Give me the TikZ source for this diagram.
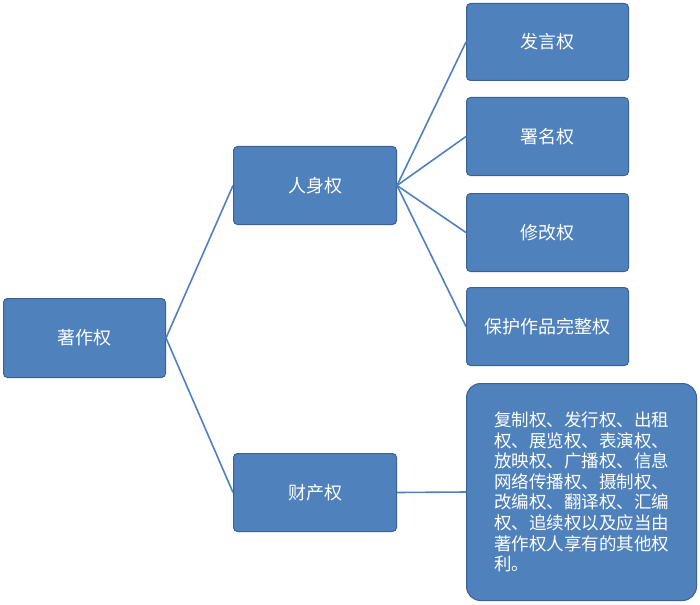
\documentclass[tikz,border=0pt]{standalone}
\usepackage{fontspec}
\newfontfamily\cjk{Noto Sans CJK SC}
\begin{document}
\begin{tikzpicture}[x=1pt,y=-1pt,
  box/.style={draw=blue!40!black!80!cyan, line width=1pt, fill=boxblue, rounded corners=4pt, text=white, font=\cjk\fontsize{18}{22}\selectfont, anchor=north west, inner sep=0pt},
  link/.style={draw=boxblue, line width=1.6pt}]
\definecolor{boxblue}{HTML}{4F81BD}
\definecolor{boxedge}{HTML}{3A6294}
\tikzset{box/.append style={draw=boxedge}}
\useasboundingbox (0,0) rectangle (700,604);
\node[box, minimum width=162, minimum height=79] (a) at (3,298) {著作权};
\node[box, minimum width=163, minimum height=78] (b) at (233,146) {人身权};
\node[box, minimum width=163, minimum height=78] (c) at (233,453) {财产权};
\node[box, minimum width=162, minimum height=77] (d1) at (466,3) {发言权};
\node[box, minimum width=162, minimum height=78] (d2) at (466,97) {署名权};
\node[box, minimum width=162, minimum height=78] (d3) at (466,193) {修改权};
\node[box, minimum width=162, minimum height=78] (d4) at (466,287) {保护作品完整权};
\node[box, rounded corners=14pt, minimum width=230, minimum height=217, font=\cjk\fontsize{17.5}{20.6}\selectfont, align=left] (e) at (466,383) {复制权、发行权、出租\\权、展览权、表演权、\\放映权、广播权、信息\\网络传播权、摄制权、\\改编权、翻译权、汇编\\权、追续权以及应当由\\著作权人享有的其他权\\利。};
\draw[link] (a.east) -- (b.west);
\draw[link] (a.east) -- (c.west);
\foreach \n in {d1,d2,d3,d4} \draw[link] (b.east) -- (\n.west);
\draw[link] (c.east) -- (e.west);
\end{tikzpicture}
\end{document}
